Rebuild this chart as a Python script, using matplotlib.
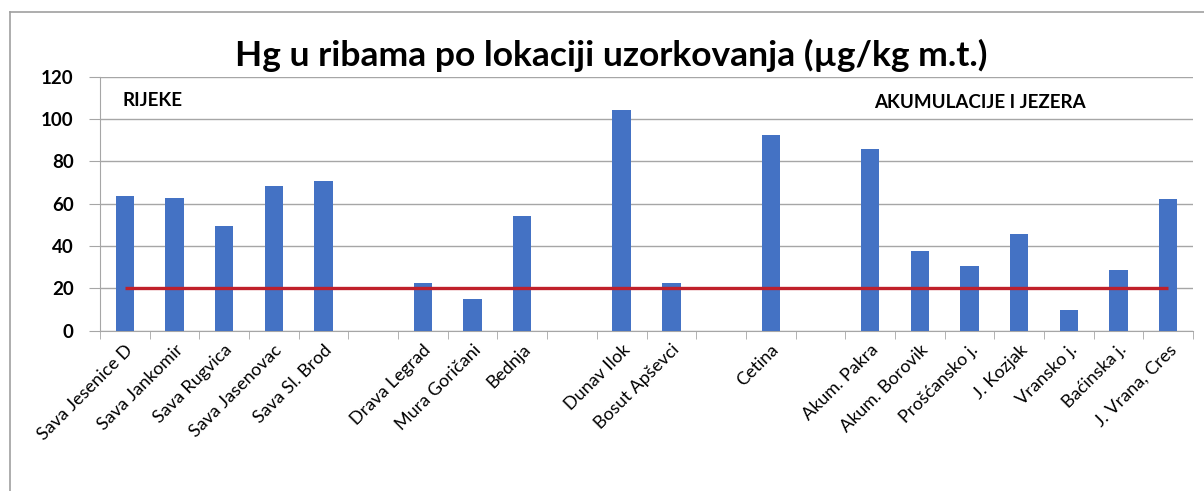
import matplotlib
matplotlib.use("Agg")
import matplotlib.pyplot as plt
from matplotlib.lines import Line2D
import numpy as np

plt.rcParams['font.family'] = ['Lato', 'DejaVu Sans']

categories = ["Sava Jesenice D", "Sava Jankomir", "Sava Rugvica", "Sava Jasenovac",
              "Sava Sl. Brod", "", "Drava Legrad", "Mura Goričani", "Bednja", "",
              "Dunav Ilok", "Bosut Apševci", "", "Cetina", "", "Akum. Pakra",
              "Akum. Borovik", "Prošćansko j.", "J. Kozjak", "Vransko j.",
              "Baćinska j.", "J. Vrana, Cres"]
values = [63.5, 62.8, 49.5, 68.2, 70.6, np.nan, 22.6, 14.8, 54.3, np.nan,
          104.5, 22.6, np.nan, 92.5, np.nan, 86.0, 37.6, 30.5, 45.5, 9.5,
          28.7, 62.3]
limit = [20] * len(categories)
yticks = [0, 20, 40, 60, 80, 100, 120]

W, H = 1204, 491
fig = plt.figure(figsize=(W/100, H/100), dpi=100)
ax = fig.add_axes([100/W, 1-330.5/H, (1193-100)/W, (330.5-77)/H])

x = np.arange(len(categories))
vals = np.array(values, dtype=float)
mask = ~np.isnan(vals)
ax.bar(x[mask], vals[mask], width=0.37, color='#4472C4', zorder=3)
ax.plot(x, limit, color='#C0202A', lw=2.4, zorder=4, solid_capstyle='butt')

ax.set_xlim(-0.5, len(categories)-0.5)
ax.set_ylim(0, 120)
ax.set_yticks(yticks)
ax.set_yticklabels([str(v) for v in yticks], fontsize=13.5, fontweight='bold')
ax.yaxis.grid(True, color='#a6a6a6', lw=1.0, zorder=0)
ax.set_axisbelow(True)

ax.set_xticks(x)
ax.set_xticklabels(categories, rotation=45, ha='right', rotation_mode='anchor', fontsize=13)
ax.tick_params(axis='x', which='major', length=0, pad=8)
ax.set_xticks(np.arange(-0.5, len(categories)), minor=True)
ax.tick_params(axis='x', which='minor', length=6, color='#a6a6a6', direction='out')
ax.tick_params(axis='y', length=8, color='#a6a6a6', pad=11)

for s in ['top', 'right']:
    ax.spines[s].set_visible(False)
for s in ['left', 'bottom']:
    ax.spines[s].set_color('#a6a6a6')

fig.text(611/W, 1-55/H, "Hg u ribama po lokaciji uzorkovanja (µg/kg m.t.)",
         ha='center', va='center', fontsize=25.5, fontweight='bold')
fig.text(123/W, 1-101/H, "RIJEKE", fontsize=13.5, fontweight='bold',
         ha='left', va='center')
fig.text(980/W, 1-103/H, "AKUMULACIJE I JEZERA", fontsize=13.5, fontweight='bold',
         ha='center', va='center')

fig.add_artist(Line2D([10/W, 10/W], [0, 1-12/H], transform=fig.transFigure, color='#a0a0a0', lw=1.2))
fig.add_artist(Line2D([10/W, 1], [1-12/H, 1-12/H], transform=fig.transFigure, color='#a0a0a0', lw=1.2))

fig.savefig("out.png", dpi=100)
